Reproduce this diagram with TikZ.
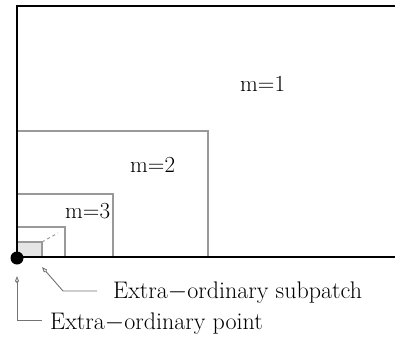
\documentclass[tikz,border=0pt]{standalone}
\usetikzlibrary{arrows.meta}
\begin{document}
\begin{tikzpicture}[x=1pt,y=-1pt,
  frame/.style={line width=2.4pt,black},
  level/.style={line width=1.4pt,black!40},
  conn/.style={line width=0.9pt,black!55,-{Kite[open,width=4pt,length=7pt,inset=2pt]}},
  lbl/.style={font=\fontsize{24}{28}\selectfont,inner sep=0pt,anchor=base west},
  mlbl/.style={font=\fontsize{23}{27}\selectfont,inner sep=0pt,anchor=base west}]
\useasboundingbox (0,0) rectangle (395,342);
% subdivision levels
\draw[level] (17,131) -| (208,257);
\draw[level] (17,194) -| (113,257);
\draw[level] (17,227) -| (65,257);
% shaded sub-patch at the corner
\filldraw[fill=black!10,draw=black!40,line width=1.2pt] (17,242) rectangle (42,257);
\draw[black!40,line width=1pt,dash pattern=on 3pt off 3pt] (42,242) -- (58,233);
% patch boundary
\draw[frame] (395,6) -- (17,6) -- (17,257) -- (395,257);
\node[circle,fill=black,minimum size=13pt,inner sep=0pt] (ep) at (17,258) {};
% level labels
\node[mlbl] (m1) at (240,92) {m=1};
\node[mlbl] (m2) at (130,172) {m=2};
\node[mlbl] (m3) at (65,218) {m=3};
% callouts
\node[lbl] (sub) at (113,298) {Extra$-$ordinary subpatch};
\node[lbl] (pt) at (50,329) {Extra$-$ordinary point};
\coordinate (subtip) at (42,267);
\coordinate (pttip) at (17,276);
\coordinate (subknee) at (63,291);
\coordinate (subend) at (97,291);
\coordinate (ptend) at (42,320);
\draw[conn] (subend) -- (subknee) -- (subtip);
\draw[conn] (ptend) -| (pttip);
\end{tikzpicture}
\end{document}
